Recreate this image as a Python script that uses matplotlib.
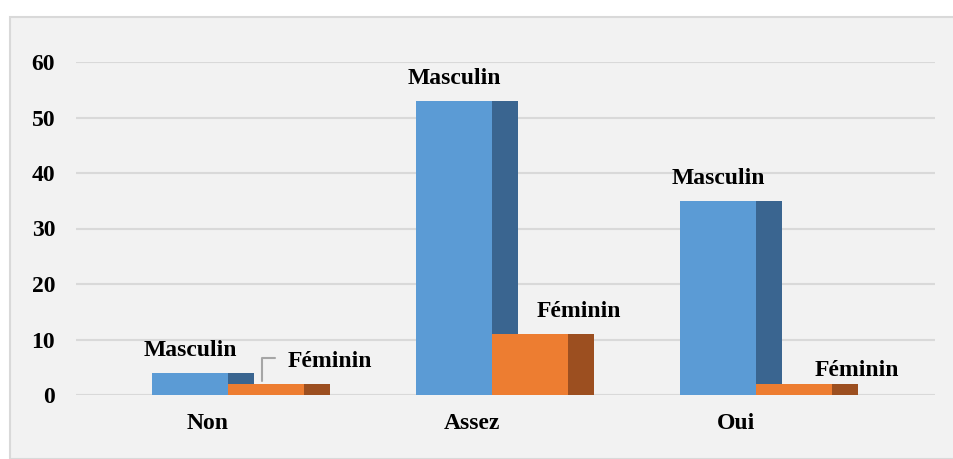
import matplotlib.pyplot as plt
from matplotlib.patches import Rectangle

categories = ["Non", "Assez", "Oui"]
masculin = [4, 53, 35]
feminin = [2, 11, 2]
yticks = [0, 10, 20, 30, 40, 50, 60]

W, H = 954, 459
fig = plt.figure(figsize=(W / 100, H / 100), dpi=100, facecolor="white")

# light grey chart panel with thin border (cut off at right/bottom)
fig.patches.append(Rectangle((10 / W, 0), 1, 1 - 17 / H, transform=fig.transFigure,
                             facecolor="#f2f2f2", edgecolor="#d9d9d9", lw=1.5, zorder=-5))

ax = fig.add_axes([76 / W, 1 - 395 / H, (935 - 76) / W, (395 - 62) / H])
ax.set_facecolor("none")
ax.set_zorder(2)

front = 0.288
side = 0.097
m_off = -0.212
f_off = m_off + front

x = list(range(len(categories)))
xm = [i + m_off for i in x]
xf = [i + f_off for i in x]

ax.bar(xm, masculin, width=front, align="edge", color="#5b9bd5", zorder=3)
ax.bar([v + front for v in xm], masculin, width=side, align="edge", color="#3a6590", zorder=2)
ax.bar(xf, feminin, width=front, align="edge", color="#ed7d31", zorder=4)
ax.bar([v + front for v in xf], feminin, width=side, align="edge", color="#9c4f20", zorder=4)

font = dict(family="Liberation Serif", fontweight="bold", fontsize=17)

for xi, v in zip(xm, masculin):
    ax.annotate("Masculin", (xi + front / 2, v), xytext=(0, 12), textcoords="offset points",
                ha="center", va="baseline", **font)

# Féminin labels are moved away from the bars in the original
f_shift = [(46, 12.5), (35, 12.5), (45, 6)]
for xi, v, (dx, dy) in zip(xf, feminin, f_shift):
    ax.annotate("Féminin", (xi + front / 2, v), xytext=(dx, dy), textcoords="offset points",
                ha="center", va="baseline", **font)

# leader line for the small Non / Féminin label
x0 = xf[0] + front * 0.45
ax.annotate("", (x0, feminin[0]), xytext=(x0 + 0.06, feminin[0] + 4.7),
            arrowprops=dict(arrowstyle="-", color="#a6a6a6", lw=1.5,
                            connectionstyle="angle,angleA=0,angleB=90,rad=0"))

ax.set_xlim(-0.5, 2.754)
ax.set_ylim(0, 60)
ax.set_yticks(yticks)
ax.set_xticks(x)
ax.set_xticklabels(categories)
ax.yaxis.grid(True, color="#d9d9d9", lw=1.5, zorder=0)
ax.set_axisbelow(True)
for s in ax.spines.values():
    s.set_visible(False)
ax.tick_params(length=0)
ax.tick_params(axis="y", pad=15)
ax.tick_params(axis="x", pad=13)
for lbl in ax.get_xticklabels() + ax.get_yticklabels():
    lbl.set_fontfamily("Liberation Serif")
    lbl.set_fontweight("bold")
    lbl.set_fontsize(17)

fig.savefig("out.png", dpi=100, facecolor="white")
